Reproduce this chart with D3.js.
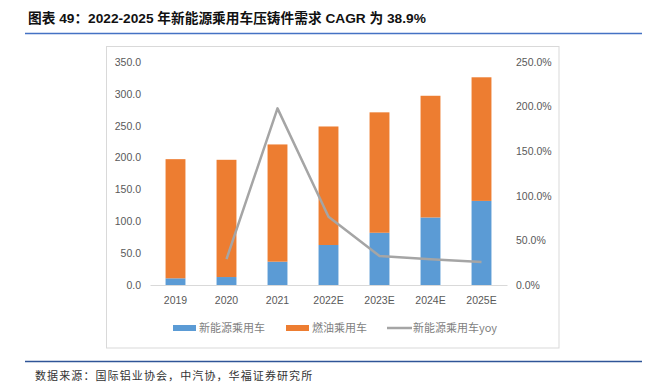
<!DOCTYPE html>
<html><head><meta charset="utf-8">
<script src="https://cdn.jsdelivr.net/npm/d3@7"></script>
<style>body{margin:0;background:#fff}svg{display:block}</style>
</head><body>
<svg id="c" width="647" height="391"></svg>
<script>
const categories = ["2019","2020","2021","2022E","2023E","2024E","2025E"];
const nevValues  = [10.5, 12.5, 36.6, 62.8, 82, 106, 132];
const fuelValues = [187, 184, 184, 186, 189, 191, 194];
const yoyValues  = [null, 29, 198, 76.6, 32.5, 29, 25.8];
const leftTicks  = [0,50,100,150,200,250,300,350];
const rightTicks = [0,50,100,150,200,250];
const seriesNames = ["新能源乘用车","燃油乘用车","新能源乘用车yoy"];
const titleText = "图表 49：2022-2025 年新能源乘用车压铸件需求 CAGR 为 38.9%";
const sourceText = "数据来源：国际铝业协会，中汽协，华福证券研究所";

const svg = d3.select("#c");
const cBlue="#5b9bd5", cOrange="#ed7d31", cGray="#a5a5a5", cText="#595959";
const font="'Liberation Sans','DejaVu Sans',sans-serif";

// title
svg.append("text").attr("x",28).attr("y",23).attr("font-size",13.7).attr("font-weight","bold")
  .attr("font-family","'Liberation Sans','Noto Sans CJK SC',sans-serif").attr("fill","#111").text(titleText);
svg.append("line").attr("x1",25).attr("x2",642).attr("y1",33.5).attr("y2",33.5).attr("stroke","#4472c4").attr("stroke-width",1.5);

// frame
svg.append("rect").attr("x",106.5).attr("y",46.5).attr("width",452.5).attr("height",301.5)
  .attr("fill","none").attr("stroke","#d9d9d9").attr("stroke-width",1);

const x = d3.scaleBand().domain(categories).range([150,507]).paddingInner(0.61).paddingOuter(0.305);
const yL = d3.scaleLinear().domain([0,350]).range([285,62]);
const yR = d3.scaleLinear().domain([0,250]).range([285,62]);

// left axis
const gL = svg.append("g").attr("transform","translate(141,0)")
  .call(d3.axisLeft(yL).tickValues(leftTicks).tickFormat(d3.format(".1f")).tickSize(0).tickPadding(0));
gL.select(".domain").remove();
gL.selectAll("text").attr("fill",cText).attr("font-size",10.5).attr("font-family",font);

// right axis
const gR = svg.append("g").attr("transform","translate(516,0)")
  .call(d3.axisRight(yR).tickValues(rightTicks).tickFormat(d=>d3.format(".1f")(d)+"%").tickSize(0).tickPadding(0));
gR.select(".domain").remove();
gR.selectAll("text").attr("fill",cText).attr("font-size",10.5).attr("font-family",font);

// bars
const stacked = categories.map((c,i)=>({c, nev:nevValues[i], fuel:fuelValues[i]}));
svg.append("g").selectAll("rect.n").data(stacked).join("rect")
  .attr("x",d=>x(d.c)).attr("width",x.bandwidth())
  .attr("y",d=>yL(d.nev)).attr("height",d=>yL(0)-yL(d.nev)).attr("fill",cBlue);
svg.append("g").selectAll("rect.f").data(stacked).join("rect")
  .attr("x",d=>x(d.c)).attr("width",x.bandwidth())
  .attr("y",d=>yL(d.nev+d.fuel)).attr("height",d=>yL(d.nev)-yL(d.nev+d.fuel)).attr("fill",cOrange);

// x axis
const gX = svg.append("g").attr("transform","translate(0,285)")
  .call(d3.axisBottom(x).tickSize(0).tickPadding(12));
gX.select(".domain").attr("stroke","#d9d9d9");
gX.selectAll("text").attr("fill",cText).attr("font-size",10.5).attr("font-family",font);

// yoy line
const lineData = categories.map((c,i)=>({c, v:yoyValues[i]})).filter(d=>d.v!=null);
svg.append("path").datum(lineData)
  .attr("d", d3.line().x(d=>x(d.c)+x.bandwidth()/2).y(d=>yR(d.v)))
  .attr("fill","none").attr("stroke",cGray).attr("stroke-width",2.5).attr("stroke-linejoin","round");

// legend
const leg = svg.append("g").attr("font-family","'Noto Sans CJK SC',sans-serif").attr("font-size",11).attr("fill","#7f7f7f");
const legItems = [{x:173, t:seriesNames[0], col:cBlue, type:"rect"},
                  {x:286, t:seriesNames[1], col:cOrange, type:"rect"},
                  {x:387, t:seriesNames[2], col:cGray, type:"line"}];
legItems.forEach(it=>{
  if(it.type==="rect") leg.append("rect").attr("x",it.x).attr("y",325).attr("width",23).attr("height",6).attr("fill",it.col);
  else leg.append("line").attr("x1",it.x).attr("x2",it.x+25).attr("y1",328).attr("y2",328).attr("stroke",it.col).attr("stroke-width",2.5);
  leg.append("text").attr("x",it.x+26).attr("y",332).attr("fill","#7f7f7f").text(it.t);
});

// bottom line and source
svg.append("line").attr("x1",25).attr("x2",642).attr("y1",361.5).attr("y2",361.5).attr("stroke","#2f5597").attr("stroke-width",1.5);
svg.append("text").attr("x",35).attr("y",380).attr("font-size",11).attr("letter-spacing",1.1).attr("font-family","'Noto Sans CJK SC',sans-serif")
  .attr("fill","#333").text(sourceText);
</script>
</body></html>
